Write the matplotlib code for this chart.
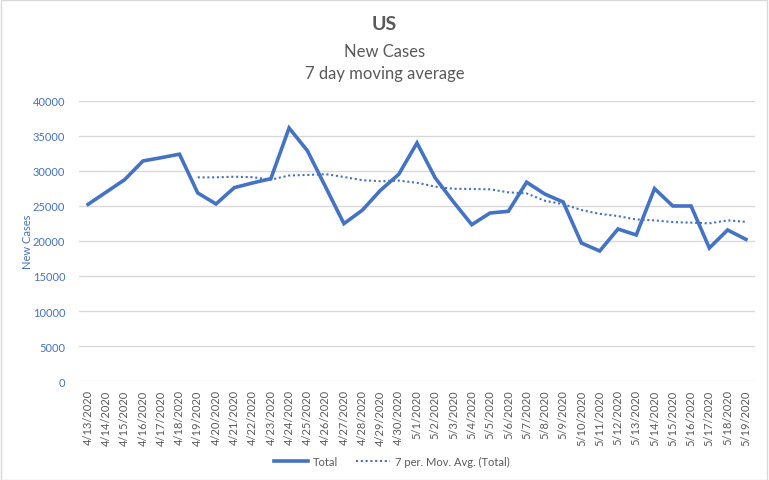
import matplotlib.pyplot as plt
import pandas as pd

# data
dates = ["4/13/2020", "4/14/2020", "4/15/2020", "4/16/2020", "4/17/2020", "4/18/2020",
         "4/19/2020", "4/20/2020", "4/21/2020", "4/22/2020", "4/23/2020", "4/24/2020",
         "4/25/2020", "4/26/2020", "4/27/2020", "4/28/2020", "4/29/2020", "4/30/2020",
         "5/1/2020", "5/2/2020", "5/3/2020", "5/4/2020", "5/5/2020", "5/6/2020",
         "5/7/2020", "5/8/2020", "5/9/2020", "5/10/2020", "5/11/2020", "5/12/2020",
         "5/13/2020", "5/14/2020", "5/15/2020", "5/16/2020", "5/17/2020", "5/18/2020",
         "5/19/2020"]
total = [25240, 27000, 28760, 31430, 31900, 32400,
         26860, 25290, 27620, 28290, 28900, 36140,
         32900, 27700, 22480, 24380, 27240, 29520,
         34000, 29000, 25570, 22330, 24000, 24240,
         28400, 26700, 25570, 19710, 18570, 21710,
         20860, 27480, 25000, 25000, 19000, 21570,
         20240]

blue = "#4472C4"
grey = "#595959"

plt.rcParams['font.family'] = ['Lato', 'DejaVu Sans']

s = pd.Series(total, index=dates)
mov_avg = s.rolling(7).mean()  # Excel's 7 per. moving average trendline

fig = plt.figure(figsize=(7.69, 4.81), dpi=100)
ax = fig.add_axes([0.1027, 0.2058, 0.8791, 0.5822])

x = range(len(dates))
ax.plot(x, total, color=blue, linewidth=2.6, label="Total", solid_joinstyle="miter")
ax.plot(x, mov_avg.values, color=blue, linewidth=1.5, linestyle=(0, (1, 1.3)),
        label="7 per. Mov. Avg. (Total)")

ax.set_xlim(-0.5, len(dates) - 0.5)
ax.set_ylim(0, 40000)
ax.set_yticks(range(0, 40001, 5000))
ax.set_xticks(list(x))
ax.set_xticklabels(dates, rotation=90, fontsize=8, color=grey)
ax.tick_params(axis='y', labelsize=8, labelcolor=blue, length=0, pad=10)
ax.tick_params(axis='x', length=0, pad=6)
ax.grid(axis='y', color="#D9D9D9", linewidth=1)
ax.set_axisbelow(True)
for sp in ax.spines.values():
    sp.set_visible(False)

ax.set_ylabel("New Cases", color=blue, fontsize=8)
ax.yaxis.set_label_coords(-0.068, 0.5)

fig.text(0.5, 1 - 25 / 481, "US", ha='center', va='center', fontsize=14,
         fontweight='bold', color=grey)
fig.text(0.5, 1 - 52 / 481, "New Cases", ha='center', va='center', fontsize=12, color=grey)
fig.text(0.5, 1 - 74 / 481, "7 day moving average", ha='center', va='center',
         fontsize=12, color=grey)

fig.legend(loc='center', bbox_to_anchor=(0.51, 1 - 462 / 481), ncol=2, frameon=False,
           fontsize=8, labelcolor=grey, handlelength=3.0, handletextpad=0.5,
           columnspacing=1.6)

# light chart border
border = plt.Rectangle((0.001, 0.001), 0.997, 0.997, transform=fig.transFigure,
                       fill=False, edgecolor="#D9D9D9", linewidth=1)
fig.patches.append(border)

fig.savefig("out.png", dpi=100, facecolor="white")
